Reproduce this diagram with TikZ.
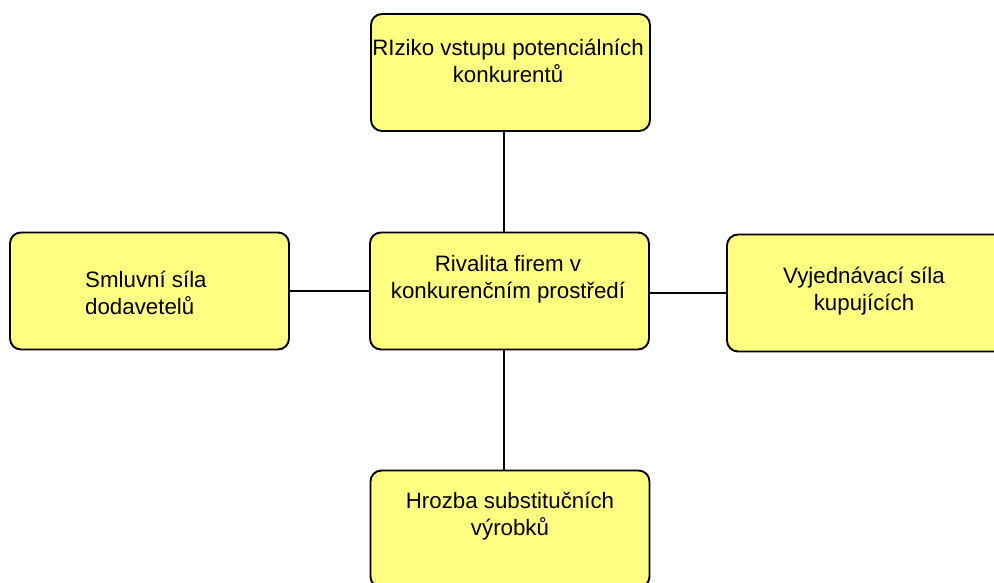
\documentclass[tikz,border=0pt]{standalone}
\usepackage{fontspec}
\setmainfont{Liberation Sans}
\definecolor{boxfill}{RGB}{255,255,130}
\begin{document}
\begin{tikzpicture}[x=1pt,y=-1pt,
  forcebox/.style={draw=black, line width=1.9pt, fill=boxfill, rounded corners=11pt,
    minimum width=279pt, minimum height=117pt, inner sep=0pt},
  forcetext/.style={font=\fontsize{22.3}{27.5}\selectfont, align=center, inner sep=0pt, text=black},
  link/.style={draw=black, line width=2pt}]
\useasboundingbox (0,0) rectangle (994,583);
\clip (0,0) rectangle (994,583);
\node[forcebox] (top) at (510.5,72.5) {};
\node[forcebox] (left) at (149.5,291) {};
\node[forcebox] (mid) at (509.5,291) {};
\node[forcebox] (right) at (866.5,293) {};
\node[forcebox] (bot) at (510,529) {};
\node[forcetext] (ttop) at (508,61) {RIziko vstupu potenciálních\\konkurentů};
\node[forcetext, align=left, anchor=west] (tleft) at (85,293) {Smluvní síla\\dodavetelů};
\node[forcetext] (tmid) at (508,279) {Rivalita firem v\\konkurenčním prostředí};
\node[forcetext] (tright) at (864,291) {Vyjednávací síla\\kupujících};
\node[forcetext] (tbot) at (510,516) {Hrozba substitučních\\výrobků};
\coordinate (vx) at (504,0);
\coordinate (hl) at (0,291);
\coordinate (hr) at (0,293);
\draw[link] (top.south -| vx) -- (mid.north -| vx);
\draw[link] (mid.south -| vx) -- (bot.north -| vx);
\draw[link] (left.east |- hl) -- (mid.west |- hl);
\draw[link] (mid.east |- hr) -- (right.west |- hr);
\end{tikzpicture}
\end{document}
